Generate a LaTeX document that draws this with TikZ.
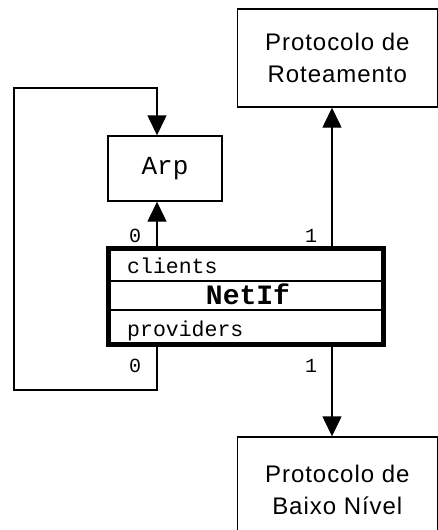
\documentclass[tikz,border=0pt]{standalone}
\usepackage{fontspec}
\setmainfont{Liberation Sans}
\setmonofont{Liberation Mono}
\newfontfamily\protofont[LetterSpace=4]{Liberation Sans}
\usetikzlibrary{arrows.meta}

\tikzset{
  thinline/.style={line width=1.4pt},
  arrow/.style={thinline, -{Triangle[length=20pt,width=19pt]}},
  protobox/.style={draw, thinline, minimum width=200pt, minimum height=98pt,
    align=center, font=\protofont\fontsize{24}{32}\selectfont},
  arpbox/.style={draw, thinline, minimum width=114pt, minimum height=65pt,
    font=\ttfamily\fontsize{26}{30}\selectfont},
  ifbox/.style={draw, line width=5pt, minimum width=275pt, minimum height=96pt},
  part/.style={inner sep=0pt, font=\ttfamily\fontsize{21.5}{24}\selectfont},
  portlabel/.style={inner sep=0pt, font=\ttfamily\fontsize{20}{24}\selectfont},
}

\begin{document}
\begin{tikzpicture}[x=1pt,y=-1pt]
  \useasboundingbox (0,0) rectangle (438,530);
  \node[protobox] (route) at (337.3,58) {Protocolo de\\Roteamento};
  \node[protobox, minimum height=106pt] (lowlevel) at (337.3,490) {Protocolo de\\Baixo Nível};
  \node[arpbox] (arp) at (165,168.5) {Arp};
  \node[ifbox] (netif) at (246,296.5) {};
  \draw[thinline] (netif.west |- 0,281) -- (netif.east |- 0,281);
  \draw[thinline] (netif.west |- 0,310) -- (netif.east |- 0,310);
  \node[part, anchor=base west] (clients) at (127,273) {clients};
  \node[part, anchor=base, font=\ttfamily\bfseries\fontsize{28}{30}\selectfont] (name) at (248,304) {NetIf};
  \node[part, anchor=base west] (providers) at (127,336) {providers};

  \coordinate (port0) at (157,0);
  \coordinate (port1) at (332,0);
  \coordinate (loopbot) at (14,390);
  \coordinate (looptop) at (14,88);
  \draw[arrow] (netif.north -| port0) -- (arp.south -| port0);
  \draw[arrow] (netif.north -| port1) -- (route.south -| port1);
  \draw[arrow] (netif.south -| port1) -- (lowlevel.north -| port1);
  \draw[arrow] (netif.south -| port0) |- (loopbot) -- (looptop) -| (arp.north -| port0);

  \node[portlabel] (c0) at (135,236) {0};
  \node[portlabel] (c1) at (311,236) {1};
  \node[portlabel] (p0) at (135,366) {0};
  \node[portlabel] (p1) at (311,366) {1};
\end{tikzpicture}
\end{document}
